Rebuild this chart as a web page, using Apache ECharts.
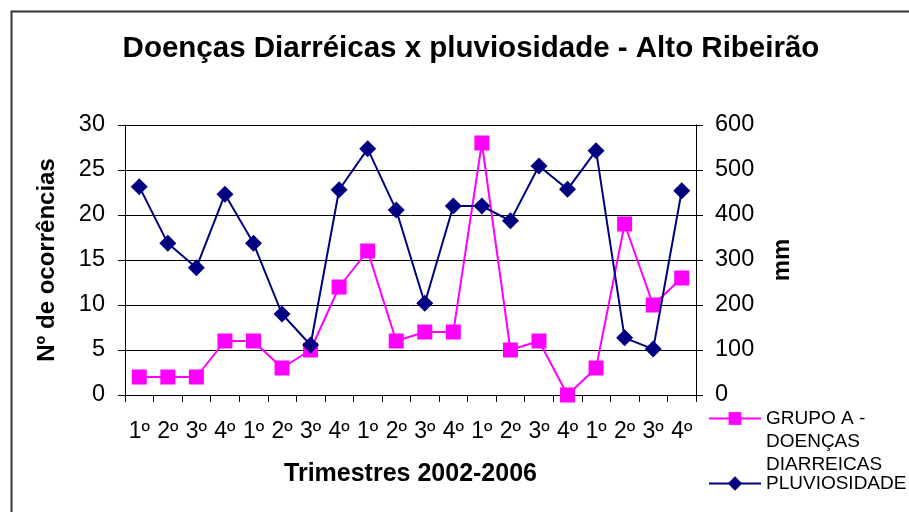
<!DOCTYPE html>
<html>
<head>
<meta charset="utf-8">
<script src="https://cdn.jsdelivr.net/npm/echarts@6/dist/echarts.min.js"></script>
<style>
  html, body { margin: 0; padding: 0; background: #fff; }
  #main { width: 909px; height: 512px; }
</style>
</head>
<body>
<div id="main"></div>
<script type="text/javascript">
    // trimestres 2002-2006
    var trimestres = ['1º','2º','3º','4º','1º','2º','3º','4º','1º','2º','3º','4º','1º','2º','3º','4º','1º','2º','3º','4º'];
    // nº de ocorrências - grupo A
    var ocorrencias = [2, 2, 2, 6, 6, 3, 5, 12, 16, 6, 7, 7, 28, 5, 6, 0, 3, 19, 10, 13];
    // pluviosidade (mm)
    var pluviosidade = [463, 337, 283, 446, 337, 180, 111, 456, 547, 411, 204, 420, 420, 387, 509, 457, 543, 127, 102, 454];

    var fonte = 'Liberation Sans, Arial, sans-serif';
    var magenta = '#FF00FF';
    var azul = '#000080';

    var chart = echarts.init(document.getElementById('main'));
    var option = {
        animation: false,
        backgroundColor: '#fff',
        textStyle: { fontFamily: fonte },
        graphic: [{
            type: 'rect',
            left: 9, top: 9,
            shape: { width: 1000, height: 600 },
            style: { fill: 'none', stroke: '#333', lineWidth: 2 }
        }],
        title: {
            text: 'Doenças Diarréicas x pluviosidade - Alto Ribeirão',
            left: 466, top: 29, textAlign: 'center',
            textStyle: { fontFamily: fonte, fontSize: 29.5, fontWeight: 'bold', color: '#000' }
        },
        legend: [{
            data: ['GRUPO A - DOENÇAS DIARREICAS'],
            left: 708, top: 361, padding: 0,
            itemWidth: 52, itemHeight: 16,
            formatter: function () { return '\n\nGRUPO A -\nDOENÇAS\nDIARREICAS'; },
            textStyle: { fontFamily: fonte, fontSize: 19, lineHeight: 23, color: '#000' }
        }, {
            data: ['PLUVIOSIDADE'],
            left: 708, top: 472, padding: 0,
            itemWidth: 52, itemHeight: 18,
            textStyle: { fontFamily: fonte, fontSize: 19, lineHeight: 23, color: '#000' }
        }],
        grid: { left: 125, right: 213, top: 125, bottom: 117 },
        xAxis: {
            type: 'category',
            data: trimestres,
            boundaryGap: true,
            name: 'Trimestres 2002-2006',
            nameLocation: 'middle',
            nameGap: 67,
            nameTextStyle: { fontFamily: fonte, fontSize: 25, fontWeight: 'bold', color: '#000' },
            axisLine: { lineStyle: { color: '#000', width: 1 } },
            axisTick: { show: true, length: 7, interval: 0, lineStyle: { color: '#000' } },
            axisLabel: { interval: 0, margin: 25, fontSize: 23, color: '#000', fontFamily: fonte },
            splitLine: { show: false }
        },
        yAxis: [{
            type: 'value',
            min: 0, max: 30, interval: 5,
            position: 'left',
            name: 'Nº de ocorrências',
            nameLocation: 'middle',
            nameRotate: 90,
            nameGap: 66,
            nameTextStyle: { fontFamily: fonte, fontSize: 24, fontWeight: 'bold', color: '#000' },
            axisLine: { show: true, lineStyle: { color: '#000', width: 1 } },
            axisTick: { show: true, length: 7, lineStyle: { color: '#000' } },
            axisLabel: { margin: 20, fontSize: 23.5, color: '#000', fontFamily: fonte },
            splitLine: { show: true, lineStyle: { color: '#000', width: 1 } }
        }, {
            type: 'value',
            min: 0, max: 600, interval: 100,
            position: 'right',
            name: 'mm',
            nameLocation: 'middle',
            nameRotate: 90,
            nameGap: 74,
            nameTextStyle: { fontFamily: fonte, fontSize: 24, fontWeight: 'bold', color: '#000' },
            axisLine: { show: true, lineStyle: { color: '#000', width: 1 } },
            axisTick: { show: true, length: 7, lineStyle: { color: '#000' } },
            axisLabel: { margin: 19, fontSize: 23.5, color: '#000', fontFamily: fonte },
            splitLine: { show: false }
        }],
        series: [{
            name: 'GRUPO A - DOENÇAS DIARREICAS',
            type: 'line',
            yAxisIndex: 0,
            data: ocorrencias,
            symbol: 'rect',
            symbolSize: 15,
            lineStyle: { color: magenta, width: 2 },
            itemStyle: { color: magenta },
            z: 2
        }, {
            name: 'PLUVIOSIDADE',
            type: 'line',
            yAxisIndex: 1,
            data: pluviosidade,
            symbol: 'diamond',
            symbolSize: 17,
            lineStyle: { color: azul, width: 2 },
            itemStyle: { color: azul },
            z: 3
        }]
    };
    chart.setOption(option);
    window.addEventListener('resize', chart.resize);
</script>
</body>
</html>
